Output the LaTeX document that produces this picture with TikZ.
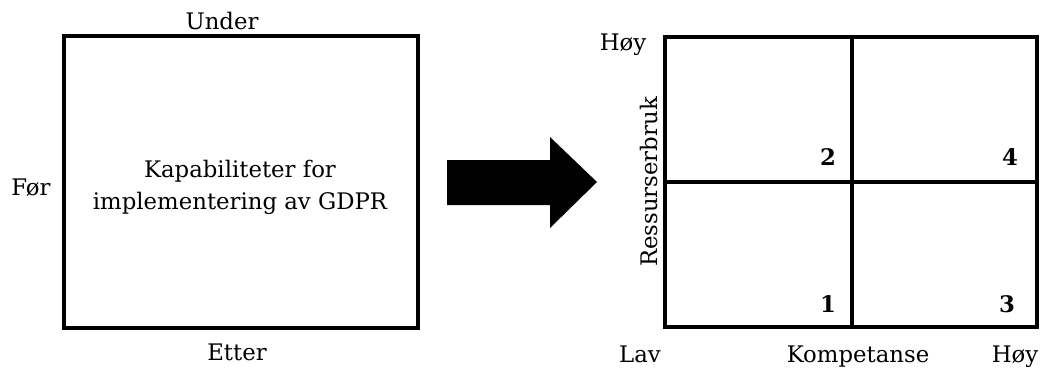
\documentclass[tikz,border=0pt]{standalone}
\usepackage{fontspec}
\setmainfont{DejaVu Serif}
\begin{document}
\begin{tikzpicture}[x=1pt,y=-1pt,
  lbl/.style={inner sep=0pt,anchor=base,font=\fontsize{22.8}{32}\selectfont},
  num/.style={inner sep=0pt,anchor=base,font=\fontsize{22.8}{32}\selectfont\bfseries},
  frame/.style={draw=black,line width=3.4pt,inner sep=0pt}]
\useasboundingbox (0,0) rectangle (1043,373);

% capability box with its time labels
\node[frame,minimum width=354pt,minimum height=292pt] (cap) at (241,182) {};
\node[lbl,align=center,anchor=center] (captext) at (240,187)
  {Kapabiliteter for\\implementering av GDPR};
\node[lbl] (under) at (222,29) {Under};
\node[lbl] (foer) at (31,195) {Før};
\node[lbl] (etter) at (237,360) {Etter};

% block arrow
\fill[black] (447,160) -- (550,160) -- (550,137) -- (597,182) -- (550,228)
  -- (550,205) -- (447,205) -- cycle;

% 2x2 matrix
\node[frame,minimum width=372pt,minimum height=290pt] (grid) at (851,182) {};
\coordinate (vmid) at (852,182);
\draw[line width=3.4pt] (vmid |- grid.north) -- (vmid |- grid.south);
\draw[line width=3.4pt] (vmid -| grid.west) -- (vmid -| grid.east);

\node[num] (q2) at (828,165) {2};
\node[num] (q4) at (1010,165) {4};
\node[num] (q1) at (828,312) {1};
\node[num] (q3) at (1007,312) {3};

% axis labels
\node[lbl] (yhigh) at (623,50) {Høy};
\node[lbl,rotate=90] (yaxis) at (657,182) {Ressurserbruk};
\node[lbl] (xlow) at (640,362) {Lav};
\node[lbl] (xaxis) at (858,362) {Kompetanse};
\node[lbl] (xhigh) at (1015,362) {Høy};
\end{tikzpicture}
\end{document}
